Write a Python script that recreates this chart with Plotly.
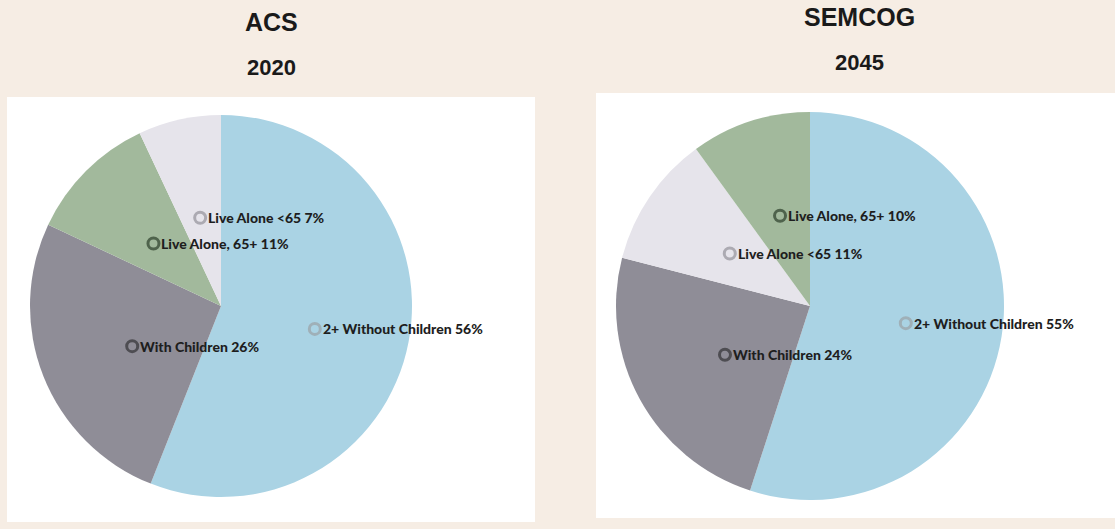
import math
import plotly.graph_objects as go

# ---- data ----
left_title = ["ACS", "2020"]
right_title = ["SEMCOG", "2045"]

left_labels = ["2+ Without Children", "With Children", "Live Alone, 65+", "Live Alone <65"]
left_values = [56, 26, 11, 7]

right_labels = ["2+ Without Children", "With Children", "Live Alone <65", "Live Alone, 65+"]
right_values = [55, 24, 11, 10]

# ---- styles ----
W, H = 1115, 529
BG = "#f6ede4"
slice_colors = {
    "2+ Without Children": "#aad3e4",
    "With Children": "#8f8d97",
    "Live Alone, 65+": "#a2b99c",
    "Live Alone <65": "#e6e4eb",
}
ring_colors = {
    "2+ Without Children": "#9fb0b8",
    "With Children": "#4e4d52",
    "Live Alone, 65+": "#4f634c",
    "Live Alone <65": "#acaab2",
}

pies = [
    dict(labels=left_labels, values=left_values, cx=221, cy=306, r=191,
         title=left_title, tx=271, ty=[22, 67], label_dy=5),
    dict(labels=right_labels, values=right_values, cx=810, cy=306, r=194,
         title=right_title, tx=859, ty=[17, 62], label_dy=2),
]

fig = go.Figure()
shapes = []
annotations = []

# white panels
shapes.append(dict(type="rect", xref="x", yref="y", x0=7, y0=97, x1=535, y1=522,
                   fillcolor="white", line=dict(width=0), layer="below"))
shapes.append(dict(type="rect", xref="x", yref="y", x0=596, y0=93, x1=1115, y1=518,
                   fillcolor="white", line=dict(width=0), layer="below"))

# invisible scatter to establish pixel axes
fig.add_trace(go.Scatter(x=[0, W], y=[0, H], mode="markers",
                         marker=dict(opacity=0), hoverinfo="skip", showlegend=False))

for p in pies:
    cx, cy, r = p["cx"], p["cy"], p["r"]
    fig.add_trace(go.Pie(
        labels=p["labels"], values=p["values"], sort=False, direction="clockwise",
        rotation=0, textinfo="none", hoverinfo="label+percent", showlegend=False,
        marker=dict(colors=[slice_colors[l] for l in p["labels"]], line=dict(width=0)),
        domain=dict(x=[(cx - r) / W, (cx + r) / W], y=[1 - (cy + r) / H, 1 - (cy - r) / H]),
    ))
    total = sum(p["values"])
    cum = 0
    for lab, v in zip(p["labels"], p["values"]):
        mid = (cum + v / 2) / total * 2 * math.pi
        cum += v
        mx = cx + 0.5 * r * math.sin(mid)
        my = cy - 0.5 * r * math.cos(mid) + p["label_dy"]
        rr = 5.5
        shapes.append(dict(type="circle", xref="x", yref="y",
                           x0=mx - rr, x1=mx + rr, y0=my - rr, y1=my + rr,
                           fillcolor=slice_colors[lab],
                           line=dict(color=ring_colors[lab], width=3), layer="above"))
        annotations.append(dict(x=mx + 6, y=my, xref="x", yref="y", xanchor="left",
                                yanchor="middle", showarrow=False,
                                text=f"{lab} {v}%",
                                font=dict(family="Lato", size=14, weight=900, color="#1e1e1e")))
    for i, t in enumerate(p["title"]):
        annotations.append(dict(x=p["tx"], y=p["ty"][i], xref="x", yref="y",
                                xanchor="center", yanchor="middle", showarrow=False,
                                text=f"<b>{t}</b>",
                                font=dict(family="Liberation Sans", size=25 if i == 0 else 22,
                                          color="#1a1a1a")))

fig.update_layout(
    width=W, height=H, margin=dict(l=0, r=0, t=0, b=0),
    paper_bgcolor=BG, plot_bgcolor="rgba(0,0,0,0)",
    xaxis=dict(range=[0, W], visible=False, fixedrange=True),
    yaxis=dict(range=[H, 0], visible=False, fixedrange=True),
    shapes=shapes, annotations=annotations,
)

fig.write_html("out.html", config={"displayModeBar": False},
               post_script="document.body.style.margin='0';")
